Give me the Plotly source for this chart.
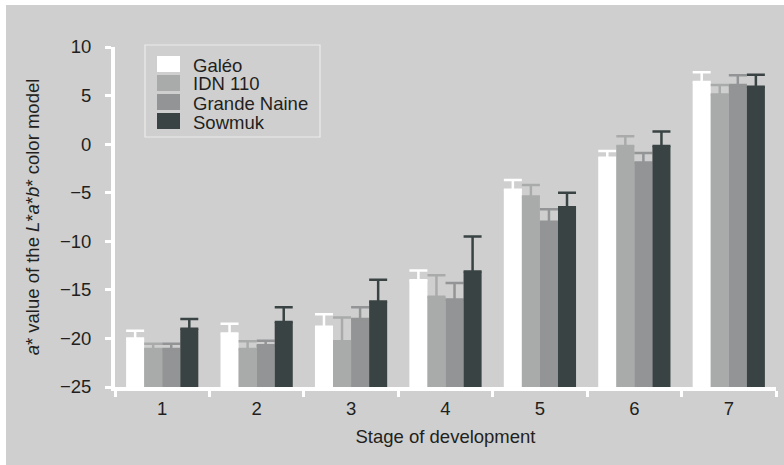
import plotly.graph_objects as go

# Stage of development (categories on the x axis)
stages = ["1", "2", "3", "4", "5", "6", "7"]

# Mean a* value per cultivar and stage
galeo = [-20.0, -19.5, -18.8, -14.0, -4.7, -1.4, 6.4]
idn110 = [-21.1, -21.1, -20.3, -15.7, -5.4, -0.2, 5.1]
grande_naine = [-21.1, -20.7, -18.0, -16.0, -8.0, -1.9, 6.1]
sowmuk = [-19.0, -18.3, -16.2, -13.1, -6.5, -0.2, 5.9]

# Standard deviations (upper error bars)
galeo_sd = [0.8, 1.0, 1.3, 1.0, 1.0, 0.7, 1.0]
idn110_sd = [0.55, 0.8, 2.45, 2.2, 1.2, 1.0, 1.0]
grande_naine_sd = [0.55, 0.45, 1.2, 1.7, 1.3, 1.0, 1.0]
sowmuk_sd = [1.0, 1.5, 2.25, 3.6, 1.5, 1.5, 1.25]

series_names = ["Galéo", "IDN 110", "Grande Naine", "Sowmuk"]
series_values = [galeo, idn110, grande_naine, sowmuk]
series_errors = [galeo_sd, idn110_sd, grande_naine_sd, sowmuk_sd]
series_colors = ["#ffffff", "#a9abaa", "#929495", "#3a4343"]

y_min, y_max = -25, 10
y_ticks = [-25, -20, -15, -10, -5, 0, 5, 10]

BG = "#cfcfcf"
TEXT = "#231f20"
FONT = "Liberation Sans, Arial, sans-serif"
FS = 18.5

W, H = 784, 465
ML, MR, MT, MB = 115, 8, 47, 78
pw = W - ML - MR
ph = H - MT - MB


def px_x(x):
    return (x - ML) / pw


def px_y(y):
    return (H - MB - y) / ph


fig = go.Figure()

for name, vals, errs, col in zip(series_names, series_values, series_errors, series_colors):
    fig.add_trace(go.Bar(
        x=stages,
        y=[v - y_min for v in vals],
        base=y_min,
        name=name,
        marker=dict(color=col, line=dict(width=0)),
        error_y=dict(type="data", array=errs, symmetric=False,
                     arrayminus=[0] * len(errs),
                     color=col, thickness=2.5, width=9),
        showlegend=False,
    ))

# White frame strips along the left and top edges
fig.add_shape(type="rect", xref="paper", yref="paper", layer="below",
              x0=px_x(0), x1=px_x(6), y0=px_y(H), y1=px_y(0),
              fillcolor="#ffffff", line=dict(width=0))
fig.add_shape(type="rect", xref="paper", yref="paper", layer="below",
              x0=px_x(0), x1=px_x(W), y0=px_y(5), y1=px_y(0),
              fillcolor="#ffffff", line=dict(width=0))

# Legend box with swatches and labels
LEG_L, LEG_T, LEG_R, LEG_B = 145, 45, 320, 137
ROW0, ROW_STEP = 64, 19
fig.add_shape(type="rect", xref="paper", yref="paper",
              x0=px_x(LEG_L), x1=px_x(LEG_R), y0=px_y(LEG_B), y1=px_y(LEG_T),
              fillcolor=BG, line=dict(color="#ececec", width=1.2))
for i, (name, col) in enumerate(zip(series_names, series_colors)):
    cy = ROW0 + i * ROW_STEP
    fig.add_shape(type="rect", xref="paper", yref="paper",
                  x0=px_x(157), x1=px_x(180), y0=px_y(cy + 8), y1=px_y(cy - 8),
                  fillcolor=col, line=dict(width=0))
    fig.add_annotation(xref="paper", yref="paper", x=px_x(191), y=px_y(cy + 1),
                       xanchor="left", yanchor="middle", showarrow=False,
                       text=name, font=dict(size=FS, color=TEXT, family=FONT))

fig.update_layout(
    width=W, height=H,
    margin=dict(l=ML, r=MR, t=MT, b=MB),
    paper_bgcolor=BG, plot_bgcolor=BG,
    barmode="group", bargap=0.235, bargroupgap=0,
    font=dict(family=FONT, size=FS, color=TEXT),
    showlegend=False,
    xaxis=dict(
        type="category", range=[-0.5, 6.5],
        showline=True, linecolor="#ffffff", linewidth=4,
        ticks="outside", tickson="boundaries", ticklen=6, tickwidth=3,
        tickcolor="#ffffff", ticklabelstandoff=2,
        showgrid=False, zeroline=False,
        title=dict(text="Stage of development", standoff=13,
                   font=dict(size=FS, color=TEXT)),
        tickfont=dict(size=FS, color=TEXT),
    ),
    yaxis=dict(
        range=[y_min, y_max], tickvals=y_ticks,
        showline=True, linecolor="#ffffff", linewidth=4,
        ticks="outside", ticklen=6, tickwidth=3, tickcolor="#ffffff",
        ticklabelstandoff=10,
        showgrid=False, zeroline=False,
        title=dict(text="<i>a</i>* value of the <i>L</i>*<i>a</i>*<i>b</i>* color model",
                   standoff=16, font=dict(size=FS, color=TEXT)),
        tickfont=dict(size=FS, color=TEXT),
    ),
)

fig.write_html("out.html")
